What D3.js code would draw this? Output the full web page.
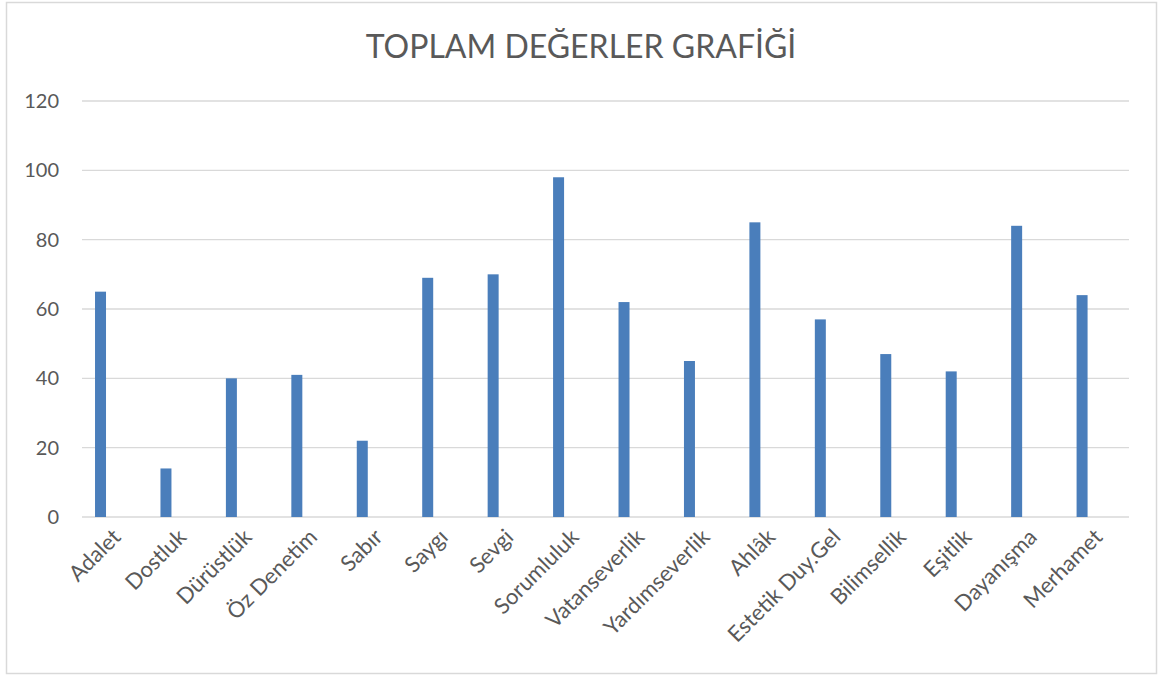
<!DOCTYPE html>
<html>
<head>
<meta charset="utf-8">
<script src="https://cdn.jsdelivr.net/npm/d3@7"></script>
<style>
  body { margin: 0; background: #fff; }
  text { font-family: Lato, "Open Sans", sans-serif; fill: #595959; }
</style>
</head>
<body>
<svg id="chart" width="1159" height="675"></svg>
<script>
var categories = ["Adalet", "Dostluk", "Dürüstlük", "Öz Denetim", "Sabır", "Saygı", "Sevgi", "Sorumluluk",
  "Vatanseverlik", "Yardımseverlik", "Ahlâk", "Estetik Duy.Gel", "Bilimsellik", "Eşitlik", "Dayanışma", "Merhamet"];
var values = [65, 14, 40, 41, 22, 69, 70, 98, 62, 45, 85, 57, 47, 42, 84, 64];
var yTicks = [0, 20, 40, 60, 80, 100, 120];
var title = "TOPLAM DEĞERLER GRAFİĞİ";

var svg = d3.select("#chart");

// outer frame
svg.append("rect")
  .attr("x", 6.5).attr("y", 2.5)
  .attr("width", 1150).attr("height", 671)
  .attr("fill", "none")
  .attr("stroke", "#d9d9d9")
  .attr("stroke-width", 1.5);

svg.append("text")
  .attr("x", 581).attr("y", 58)
  .attr("text-anchor", "middle")
  .style("font-size", "32px")
  .text(title);

var x = d3.scaleBand().domain(categories).range([82, 1129]);
var y = d3.scaleLinear().domain([0, 120]).range([517, 101]);

// gridlines
svg.append("g")
  .selectAll("line")
  .data(yTicks)
  .join("line")
  .attr("x1", 82).attr("x2", 1129)
  .attr("y1", function(d) { return y(d); })
  .attr("y2", function(d) { return y(d); })
  .attr("stroke", "#d9d9d9")
  .attr("stroke-width", 1.3);

// y axis labels
var yAxis = svg.append("g")
  .attr("transform", "translate(59,0)")
  .call(d3.axisLeft(y).tickValues(yTicks).tickSize(0).tickPadding(0));
yAxis.select(".domain").remove();
yAxis.selectAll("text")
  .style("font-size", "20px")
  .style("fill", "#595959");

// bars (sit left of band centre, like excel's cluster)
svg.append("g")
  .selectAll("rect")
  .data(values)
  .join("rect")
  .attr("x", function(d, i) { return x(categories[i]) + x.bandwidth() * 0.199; })
  .attr("width", x.bandwidth() * 0.168)
  .attr("y", function(d) { return y(d); })
  .attr("height", function(d) { return y(0) - y(d); })
  .attr("fill", "#4a7ebb");

// x labels
svg.append("g")
  .selectAll("text")
  .data(categories)
  .join("text")
  .attr("transform", function(d) {
    return "translate(" + (x(d) + x.bandwidth() / 2 + 2) + ",533) rotate(-45)";
  })
  .attr("text-anchor", "end")
  .attr("dy", "0.35em")
  .style("font-size", "22px")
  .text(function(d) { return d; });
</script>
</body>
</html>
